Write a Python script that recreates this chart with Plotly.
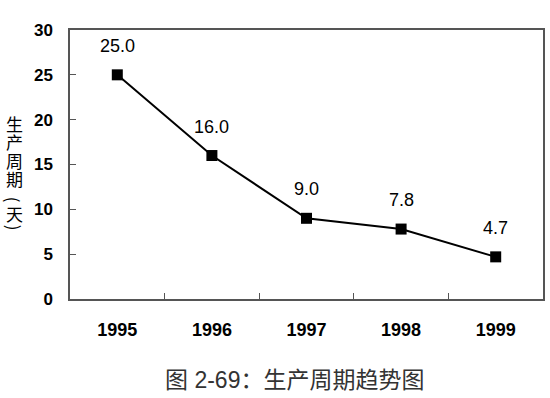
import plotly.graph_objects as go

years = ["1995", "1996", "1997", "1998", "1999"]
cycle_days = [25.0, 16.0, 9.0, 7.8, 4.7]
value_labels = ["25.0", "16.0", "9.0", "7.8", "4.7"]
y_ticks = [0, 5, 10, 15, 20, 25, 30]
y_title_chars = ["生", "产", "周", "期", "(", "天", ")"]
caption = "图 2-69：生产周期趋势图"

W, H = 550, 398
ML, MR, MT, MB = 70, 5, 30, 99
PW, PH = W - ML - MR, H - MT - MB


def px_to_paper(px, py):
    return (px - ML) / PW, (H - MB - py) / PH


fig = go.Figure()
fig.add_trace(go.Scatter(
    x=years, y=cycle_days, mode="lines+markers",
    line=dict(color="black", width=2),
    marker=dict(symbol="square", size=11, color="black"),
    showlegend=False, hoverinfo="skip",
))

for i, (y, t) in enumerate(zip(cycle_days, value_labels)):
    fig.add_annotation(x=i, y=y, text=t, showarrow=False, yshift=29,
                       font=dict(family="Liberation Sans, Arial", size=18, color="black"))

# vertical y-axis title, one character per line
title_centers = [123, 141, 160, 178, 200, 213, 228]
for ch, cy in zip(y_title_chars, title_centers):
    xp, yp = px_to_paper(14, cy)
    rot = 90 if ch in "()" else 0
    fig.add_annotation(xref="paper", yref="paper", x=xp, y=yp,
                       xanchor="center", yanchor="middle", showarrow=False,
                       text=ch, textangle=rot, borderpad=0,
                       font=dict(family="Noto Sans CJK SC", size=17, color="black"))

cx, cy = px_to_paper(295, 380)
fig.add_annotation(xref="paper", yref="paper", x=cx, y=cy,
                   xanchor="center", yanchor="middle", showarrow=False,
                   text=caption,
                   font=dict(family="Liberation Sans, Noto Sans CJK SC", size=23, color="#333"))

fig.update_layout(
    width=W, height=H,
    margin=dict(l=ML, r=MR, t=MT, b=MB),
    paper_bgcolor="white", plot_bgcolor="white",
    xaxis=dict(
        type="category", range=[-0.5, 4.5], showline=True, linecolor="#555", linewidth=1.5,
        mirror=True, ticks="inside", tickson="boundaries", ticklen=6, tickcolor="#555",
        showgrid=False, ticklabelstandoff=14, tickangle=0,
        tickfont=dict(family="Liberation Sans, Arial", size=18, color="black", weight="bold"),
    ),
    yaxis=dict(
        range=[0, 30], tickvals=y_ticks, showline=True, linecolor="#555", linewidth=1.5,
        mirror=True, ticks="inside", ticklen=6, tickcolor="#555", showgrid=False,
        zeroline=False, ticklabelstandoff=12,
        tickfont=dict(family="Liberation Sans, Arial", size=17, color="black", weight="bold"),
    ),
)

fig.write_html("out.html", config={"displayModeBar": False},
               post_script="document.body.style.margin='0';")
